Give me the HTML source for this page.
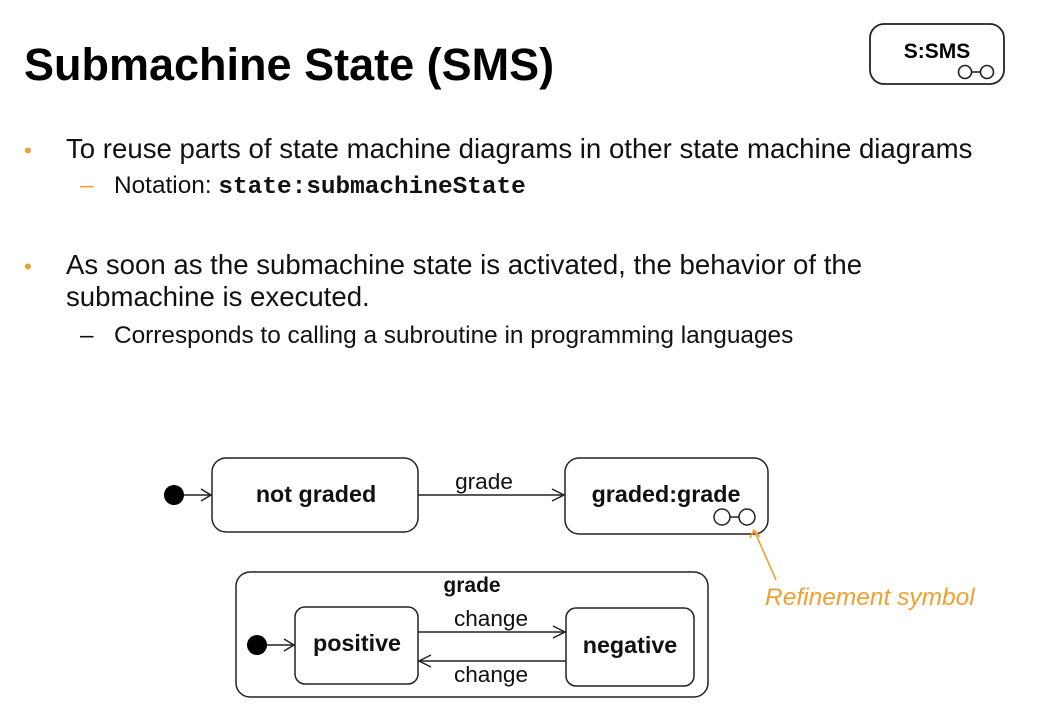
<!DOCTYPE html>
<html><head><style>body{margin:0;background:#fff}svg{display:block}</style></head><body>
<svg width="1041" height="723" viewBox="0 0 1041 723" xmlns="http://www.w3.org/2000/svg" font-family="Liberation Sans, Arial, sans-serif">
<text x="24" y="80" font-size="45" font-weight="bold" fill="#000">Submachine State (SMS)</text>
<rect x="870" y="24" width="134" height="60" rx="14" fill="#fff" stroke="#222" stroke-width="1.8"/>
<text x="937" y="58" font-size="21" font-weight="bold" text-anchor="middle">S:SMS</text>
<circle cx="965" cy="72" r="6.5" fill="none" stroke="#222" stroke-width="1.6"/><circle cx="987" cy="72" r="6.5" fill="none" stroke="#222" stroke-width="1.6"/><line x1="971.5" y1="72" x2="980.5" y2="72" stroke="#222" stroke-width="1.6"/>
<g font-size="27.6" fill="#111">
<text x="24" y="158" font-size="22" fill="#f0a030">•</text>
<text x="66" y="158">To reuse parts of state machine diagrams in other state machine diagrams</text>
<text x="24" y="274" font-size="22" fill="#f0a030">•</text>
<text x="66" y="274">As soon as the submachine state is activated, the behavior of the</text>
<text x="66" y="306">submachine is executed.</text>
</g>
<g font-size="24.4" fill="#111">
<text x="80" y="193" fill="#f0a030">–</text>
<text x="114" y="193">Notation: <tspan font-family="Liberation Mono, monospace" font-weight="bold">state:submachineState</tspan></text>
<text x="80" y="343">–</text>
<text x="114" y="343">Corresponds to calling a subroutine in programming languages</text>
</g>
<g stroke="#222" stroke-width="1.5" fill="none">
<rect x="212" y="458" width="206" height="74" rx="14" fill="#fff"/>
<rect x="565" y="458" width="203" height="76" rx="14" fill="#fff"/>
<rect x="236" y="572" width="472" height="125" rx="14" fill="#fff"/>
<rect x="295" y="607" width="123" height="77" rx="10" fill="#fff"/>
<rect x="566" y="608" width="128" height="78" rx="10" fill="#fff"/>
<line x1="180" y1="495" x2="211" y2="495"/><polyline points="201,489 211,495 201,501"/>
<line x1="418" y1="495" x2="564" y2="495"/><polyline points="552,489 564,495 552,501"/>
<line x1="263" y1="645" x2="294" y2="645"/><polyline points="284,639 294,645 284,651"/>
<line x1="418" y1="632" x2="565" y2="632"/><polyline points="553,626 565,632 553,638"/>
<line x1="566" y1="661" x2="419" y2="661"/><polyline points="431,655 419,661 431,667"/>
<circle cx="722" cy="517" r="8"/><circle cx="747" cy="517" r="8"/><line x1="730" y1="517" x2="739" y2="517"/>
</g>
<circle cx="174" cy="495" r="10" fill="#000"/>
<circle cx="257" cy="645" r="10" fill="#000"/>
<line x1="754" y1="530" x2="776" y2="580" stroke="#f0a030" stroke-width="1.6"/>
<polyline points="750,538 754,530 760,537" stroke="#f0a030" stroke-width="1.6" fill="none"/>
<text x="765" y="605" font-size="24.5" font-style="italic" fill="#f0a030">Refinement symbol</text>
<g font-size="23.3" font-weight="bold" text-anchor="middle" fill="#111">
<text x="316" y="502">not graded</text>
<text x="666" y="502">graded:grade</text>
<text x="472" y="592" font-size="21">grade</text>
<text x="357" y="651">positive</text>
<text x="630" y="653">negative</text>
</g>
<g font-size="22.6" text-anchor="middle" fill="#111">
<text x="484" y="489">grade</text>
<text x="491" y="626">change</text>
<text x="491" y="682">change</text>
</g>
</svg>
</body></html>
